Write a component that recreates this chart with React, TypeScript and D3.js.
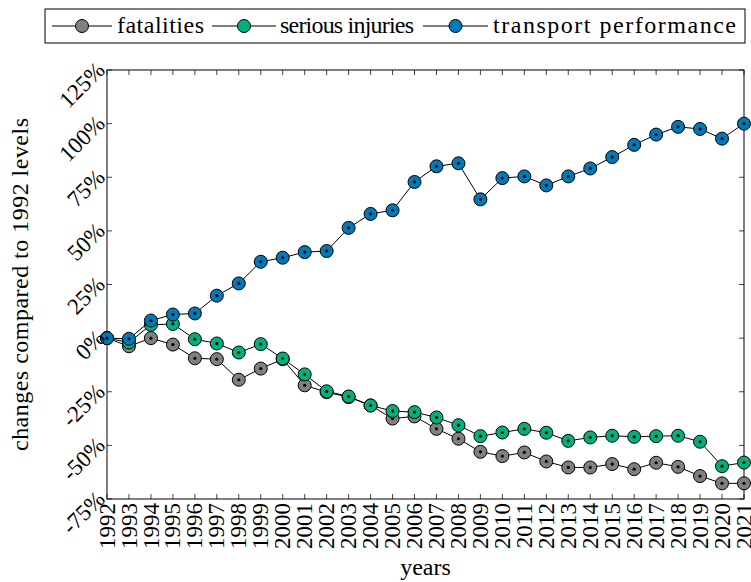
import React from 'react';
import * as d3 from 'd3';

const years = [1992, 1993, 1994, 1995, 1996, 1997, 1998, 1999, 2000, 2001, 2002, 2003, 2004, 2005, 2006, 2007, 2008, 2009, 2010, 2011, 2012, 2013, 2014, 2015, 2016, 2017, 2018, 2019, 2020, 2021];
const fatalities = [0, -3.8, 0, -3, -9.4, -9.8, -19.4, -14.2, -9.8, -22, -25.2, -27.5, -31.4, -37.5, -36.5, -42.3, -46.9, -53, -55, -53.3, -57.5, -60.3, -60.3, -58.7, -61.1, -58.1, -60, -64.3, -67.7, -67.7];
const seriousInjuries = [0, -2, 6.2, 6.6, -0.5, -2.5, -6.7, -2.8, -9.5, -16.9, -24.8, -27.2, -31.4, -34, -34.5, -37, -40.6, -45.7, -44, -42.3, -44.1, -47.9, -46.3, -45.5, -46, -45.7, -45.5, -48.3, -59.7, -58];
const transportPerformance = [0, -0.3, 8.2, 11, 11.5, 19.8, 25.5, 35.6, 37.5, 40.1, 40.6, 51.4, 57.9, 59.6, 72.8, 80.1, 81.5, 64.7, 74.6, 75.4, 71.2, 75.4, 79.1, 84.4, 90.1, 94.9, 98.5, 97.5, 93, 100];
const yTicks = [-75, -50, -25, 0, 25, 50, 75, 100, 125];
const seriesNames = ['fatalities', 'serious injuries', 'transport performance'];
const seriesColors = ['#808080', '#00b07f', '#0079b6'];
const seriesValues = [fatalities, seriousInjuries, transportPerformance];

const FONT = "'Liberation Serif', 'DejaVu Serif', serif";

export default function App() {
  const W = 751, H = 582;
  const left = 107, right = 744, top = 70, bottom = 499;
  const x = d3.scaleLinear().domain([1992, 2021]).range([left, right]);
  const y = d3.scaleLinear().domain([-75, 125]).range([bottom, top]);
  const line = d3.line<number>().x((_, i) => x(years[i])).y(d => y(d));
  const tickLen = 5;
  const r = 6.5;

  const legTop = 9, legBottom = 43, legLeft = 45, legRight = 745;
  const legMid = (legTop + legBottom) / 2;
  const legItems = [
    { l0: 52, l1: 112, t: 117, w: 87 },
    { l0: 212, l1: 276, t: 280, w: 134 },
    { l0: 423, l1: 488, t: 493, w: 243 },
  ];
  const txt = { fontFamily: FONT } as React.CSSProperties;

  return (
    <svg width={W} height={H} style={{ position: 'absolute', left: 0, top: 0, background: '#fff', fontFamily: FONT }}>
      <rect x={0} y={0} width={W} height={H} fill="#fff" />
      {years.map(yr => (
        <g key={'xt' + yr}>
          <line x1={x(yr)} x2={x(yr)} y1={bottom} y2={bottom - tickLen} stroke="#444" strokeWidth={1} />
          <line x1={x(yr)} x2={x(yr)} y1={top} y2={top + tickLen} stroke="#444" strokeWidth={1} />
        </g>
      ))}
      {yTicks.map(t => (
        <g key={'yt' + t}>
          <line x1={left} x2={left + tickLen} y1={y(t)} y2={y(t)} stroke="#444" strokeWidth={1} />
          <line x1={right} x2={right - tickLen} y1={y(t)} y2={y(t)} stroke="#444" strokeWidth={1} />
        </g>
      ))}
      <rect x={left} y={top} width={right - left} height={bottom - top} fill="none" stroke="#000" strokeWidth={1} />

      {seriesValues.map((vals, si) => (
        <g key={'s' + si}>
          <path d={line(vals) || ''} fill="none" stroke="#000" strokeWidth={1} />
          {vals.map((v, i) => (
            <g key={i}>
              <circle cx={x(years[i])} cy={y(v)} r={r} fill={seriesColors[si]} stroke="#000" strokeWidth={1} />
              <circle cx={x(years[i])} cy={y(v)} r={1.6} fill="#000" />
            </g>
          ))}
        </g>
      ))}

      {years.map(yr => (
        <text key={'xl' + yr} style={txt} transform={`translate(${x(yr)},${bottom + 4}) rotate(-90)`} textAnchor="end" dy="0.33em" fontSize={23} fill="#000">{yr}</text>
      ))}
      {yTicks.map(t => (
        <text key={'yl' + t} style={txt} transform={`translate(${left - 6},${y(t) - 4}) rotate(-45)`} textAnchor="end" dy="0.33em" fontSize={23} fill="#000">{`${t}%`}</text>
      ))}

      <text style={txt} x={(left + right) / 2} y={575} textAnchor="middle" fontSize={24} fill="#000">years</text>
      <text style={txt} transform={`translate(28,${(top + bottom) / 2}) rotate(-90)`} textAnchor="middle" fontSize={24} fill="#000" textLength={333} lengthAdjust="spacing">changes compared to 1992 levels</text>

      <rect x={legLeft} y={legTop} width={legRight - legLeft} height={legBottom - legTop} fill="#fff" stroke="#000" strokeWidth={1} />
      {legItems.map((it, i) => (
        <g key={'lg' + i}>
          <line x1={it.l0} x2={it.l1} y1={legMid} y2={legMid} stroke="#000" strokeWidth={1} />
          <circle cx={(it.l0 + it.l1) / 2} cy={legMid} r={r} fill={seriesColors[i]} stroke="#000" strokeWidth={1} />
          <text style={txt} x={it.t} y={legMid + 7} fontSize={24} fill="#000" textLength={it.w} lengthAdjust="spacing">{seriesNames[i]}</text>
        </g>
      ))}
    </svg>
  );
}
